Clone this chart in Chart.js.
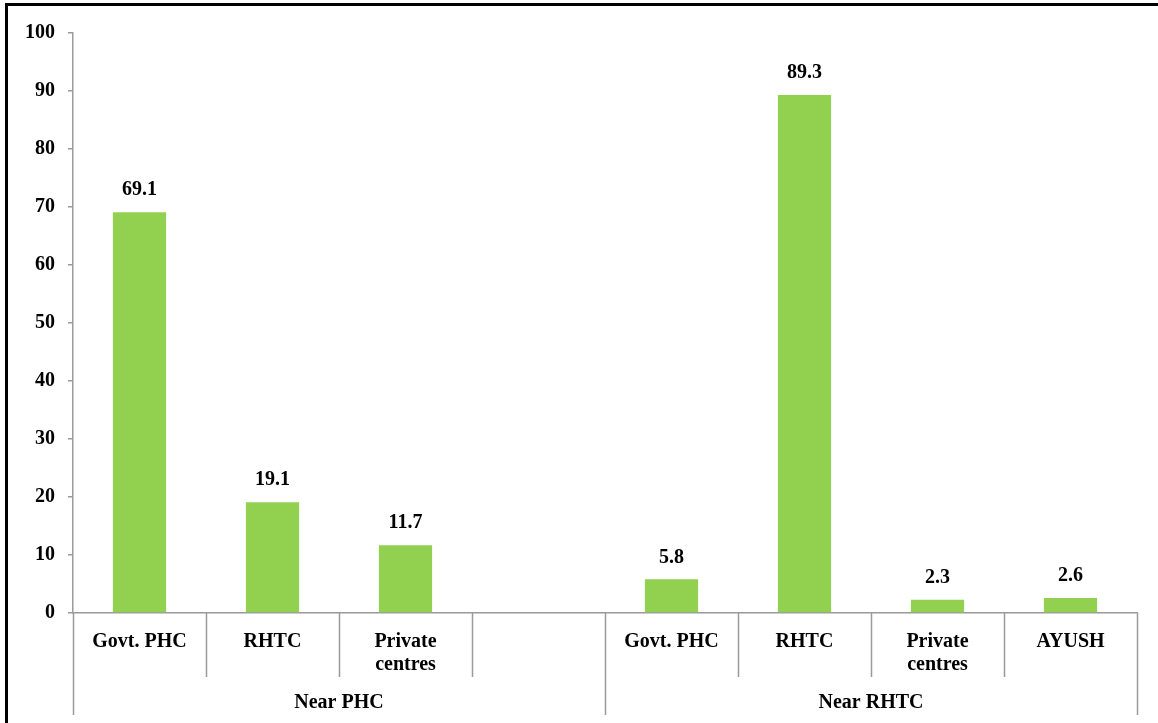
<!DOCTYPE html>
<html>
<head>
<meta charset="utf-8">
<script src="https://cdn.jsdelivr.net/npm/chart.js@4.4.1/dist/chart.umd.min.js"></script>
<style>
  html, body { margin: 0; padding: 0; background: #fff; }
  #wrap { width: 1158px; height: 723px; position: relative; }
</style>
</head>
<body>
<div id="wrap"><canvas id="chart" width="1158" height="723"></canvas></div>
<script>
const categories = ['Govt. PHC', 'RHTC', ['Private', 'centres'], '', 'Govt. PHC', 'RHTC', ['Private', 'centres'], 'AYUSH'];
const values = [69.1, 19.1, 11.7, null, 5.8, 89.3, 2.3, 2.6];
const groups = [
  { label: 'Near PHC', from: 0, to: 4 },
  { label: 'Near RHTC', from: 4, to: 8 }
];
const yTicks = { min: 0, max: 100, step: 10 };

const AXIS = '#9a9a9a';
const FONT = "'Liberation Serif', 'Times New Roman', serif";

// frame, value labels and the two-level category separators
const extras = {
  id: 'extras',
  beforeDraw(chart) {
    const ctx = chart.ctx;
    ctx.save();
    ctx.fillStyle = '#000';
    ctx.fillRect(5, 3, chart.width, 3);
    ctx.fillRect(5, 3, 3, chart.height);
    ctx.restore();
  },
  afterDatasetsDraw(chart) {
    const ctx = chart.ctx;
    const meta = chart.getDatasetMeta(0);
    ctx.save();
    ctx.fillStyle = '#000';
    ctx.font = 'bold 20px ' + FONT;
    ctx.textAlign = 'center';
    ctx.textBaseline = 'middle';
    meta.data.forEach((bar, i) => {
      if (values[i] == null) return;
      ctx.fillText(values[i].toFixed(1), bar.x, bar.y - 22);
    });
    ctx.restore();
  },
  afterDraw(chart) {
    const ctx = chart.ctx;
    const x = chart.scales.x;
    const y0 = chart.scales.y.getPixelForValue(0);
    const step = (x.right - x.left) / categories.length;
    const edge = i => x.left + step * i;
    const outer = new Set();
    groups.forEach(g => { outer.add(g.from); outer.add(g.to); });
    ctx.save();
    ctx.strokeStyle = AXIS;
    ctx.lineWidth = 1.5;
    for (let i = 0; i <= categories.length; i++) {
      const px = Math.round(edge(i)) + 0.5;
      ctx.beginPath();
      ctx.moveTo(px, y0);
      ctx.lineTo(px, outer.has(i) ? 715 : 677);
      ctx.stroke();
    }
    ctx.fillStyle = '#000';
    ctx.font = 'bold 20px ' + FONT;
    ctx.textAlign = 'center';
    ctx.textBaseline = 'middle';
    groups.forEach(g => {
      ctx.fillText(g.label, (edge(g.from) + edge(g.to)) / 2, 703);
    });
    ctx.restore();
  }
};

new Chart(document.getElementById('chart'), {
  type: 'bar',
  data: {
    labels: categories,
    datasets: [{
      data: values,
      backgroundColor: '#92D050',
      borderWidth: 0,
      categoryPercentage: 1,
      barPercentage: 0.4
    }]
  },
  plugins: [extras],
  options: {
    responsive: false,
    animation: false,
    layout: { padding: { top: 33, right: 21, left: 0, bottom: 0 } },
    plugins: {
      legend: { display: false },
      tooltip: { enabled: false }
    },
    scales: {
      x: {
        offset: true,
        afterFit(scale) { scale.height = 110; },
        grid: { display: false },
        border: { display: true, color: AXIS, width: 1.5 },
        ticks: {
          color: '#000',
          padding: 9,
          maxRotation: 0,
          autoSkip: false,
          font: { family: FONT, size: 20, weight: 'bold', lineHeight: 1.15 }
        }
      },
      y: {
        min: yTicks.min,
        max: yTicks.max,
        afterFit(scale) { scale.width = 73; },
        grid: { drawOnChartArea: false, drawTicks: true, tickLength: 5, color: AXIS, lineWidth: 1.5 },
        border: { display: true, color: AXIS, width: 1.5 },
        ticks: {
          stepSize: yTicks.step,
          color: '#000',
          padding: 13,
          font: { family: FONT, size: 20, weight: 'bold' }
        }
      }
    }
  }
});
</script>
</body>
</html>
